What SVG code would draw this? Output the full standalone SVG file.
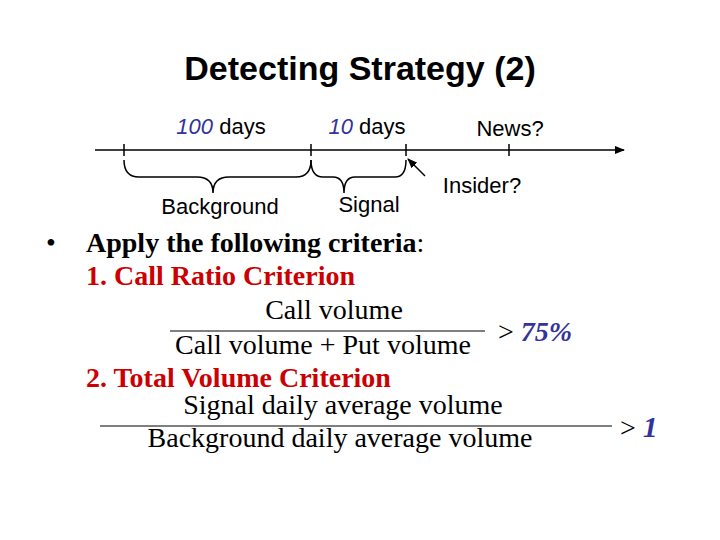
<svg xmlns="http://www.w3.org/2000/svg" width="720" height="540" viewBox="0 0 720 540">
<style>
.s{font-family:"Liberation Sans",Arial,sans-serif;font-size:22px;fill:#000}
.t{font-family:"Liberation Serif","Times New Roman",serif;font-size:28px;fill:#000}
.r{fill:#cc0000;font-weight:bold}
.b{fill:#333399;font-style:italic}
.ln{stroke:#000;stroke-width:1.5;fill:none}
</style>
<defs><marker id="ah" markerWidth="10" markerHeight="8" refX="9" refY="4" orient="auto" markerUnits="userSpaceOnUse"><path d="M0,0 L10,4 L0,8 z" fill="#000"/></marker></defs>
<rect width="720" height="540" fill="#fff"/>
<text x="360" y="80" text-anchor="middle" font-family="Liberation Sans,Arial,sans-serif" font-size="34" font-weight="bold">Detecting Strategy (2)</text>
<g id="connectors">
<line class="ln" x1="95" y1="150" x2="624" y2="150" stroke-width="2.5" marker-end="url(#ah)"/>
<path class="ln" d="M124,144v12M311,144v12M406,144v12M509,144v12"/>
<path class="ln" stroke-width="1" d="M124,160 q0,17 15,17 h58 q16,0 16,16 q0,-16 16,-16 h67 q15,0 15,-17"/>
<path class="ln" stroke-width="1" d="M311,160 q0,17 12,17 h10 q11,0 11,16 q0,-16 11,-16 h40 q11,0 11,-17"/>
<line class="ln" x1="425" y1="176" x2="408" y2="159" stroke-width="2" marker-end="url(#ah)"/>
</g>
<g id="labels">
<text class="s" x="221" y="134" text-anchor="middle"><tspan class="b">100</tspan> days</text>
<text class="s" x="367" y="134" text-anchor="middle"><tspan class="b">10</tspan> days</text>
<text class="s" x="510" y="136" text-anchor="middle">News?</text>
<text class="s" x="220" y="214" text-anchor="middle">Background</text>
<text class="s" x="369" y="212" text-anchor="middle">Signal</text>
<text class="s" x="482" y="193" text-anchor="middle">Insider?</text>
</g>
<g id="criteria">
<text class="t" x="46" y="252">•</text>
<text class="t" x="86" y="252"><tspan font-weight="bold">Apply the following criteria</tspan>:</text>
<text class="t r" x="86" y="285">1. Call Ratio Criterion</text>
<text class="t" x="334" y="319" text-anchor="middle">Call volume</text>
<line x1="170" y1="331" x2="485" y2="331" stroke="#000" stroke-width="1"/>
<text class="t" x="323" y="354" text-anchor="middle">Call volume + Put volume</text>
<text class="t" x="498" y="341">&gt; <tspan class="b" font-weight="bold">75%</tspan></text>
<text class="t r" x="86" y="387">2. Total Volume Criterion</text>
<text class="t" x="343" y="414" text-anchor="middle">Signal daily average volume</text>
<line x1="100" y1="426" x2="612" y2="426" stroke="#000" stroke-width="1"/>
<text class="t" x="340" y="447" text-anchor="middle">Background daily average volume</text>
<text class="t" x="620" y="437">&gt; <tspan class="b" font-weight="bold" font-size="30">1</tspan></text>
</g>
</svg>
